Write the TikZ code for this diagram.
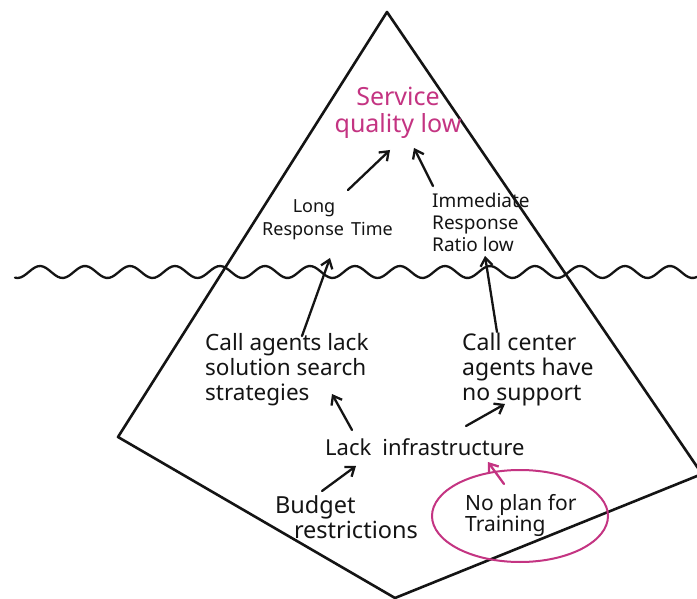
\documentclass[tikz,border=0pt]{standalone}
\usepackage{fontspec}
\setmainfont{Noto Sans}
\usetikzlibrary{arrows.meta}
\definecolor{ink}{RGB}{20,20,20}
\definecolor{pinkink}{RGB}{196,52,130}
\tikzset{
  outline/.style={draw=ink, line width=2.6pt, line join=round, line cap=round},
  label/.style={inner sep=0pt, text=ink, align=left, anchor=west},
  fs/.style 2 args={font=\fontsize{#1}{#2}\selectfont},
  cause/.style={draw=ink, line width=2.3pt, line cap=round, -{Straight Barb[length=8pt,width=12pt,line width=2.3pt]}},
  pinkcause/.style={cause, draw=pinkink}
}
\begin{document}
\begin{tikzpicture}[x=1pt,y=-1pt]
\useasboundingbox (0,0) rectangle (697,599);
\fill[white] (0,0) rectangle (697,599);

% iceberg outline
\draw[outline] (387,12) -- (702,474) -- (395,598) -- (118,437) -- cycle;

% water line
\draw[outline, line width=2.3pt] plot[domain=15:697, samples=240, smooth]
  (\x, {272 - 6*cos((\x-40)*8)});

% effects above the water
\node[label, align=center, anchor=center, text=pinkink, fs={25}{27}] (sq) at (398,113) {Service\\quality low};
\node[label, fs={18}{23}] (lrt) at (262,220) {\hspace*{1.7em}Long\\Response\hspace{0.4em}Time};
\node[label, fs={19}{22}] (irr) at (432,222) {Immediate\\Response\\Ratio low};

% causes below the water
\node[label, fs={22.5}{25}] (cal) at (205,370) {Call agents lack\\solution search\\strategies};
\node[label, fs={23}{25}] (ccs) at (462,370) {Call center\\agents have\\no support};
\node[label, fs={22}{25}] (li) at (325,447) {Lack\hspace{0.5em}infrastructure};
\node[label, fs={23.5}{25}] (br) at (275,517) {Budget\\\hspace*{0.8em}restrictions};
\node[label, fs={21}{21}] (np) at (465,515) {No plan for\\Training};
\coordinate (ring) at (520,516);
\draw[pinkink, line width=2pt] (ring) ellipse [x radius=88, y radius=46];

% coordinates for hand-drawn arrow ends
\coordinate (a1s) at (348,190); \coordinate (a1e) at (390,150);
\coordinate (a2s) at (433,186); \coordinate (a2e) at (414,148);
\coordinate (a3s) at (302,336); \coordinate (a3e) at (330,258);
\coordinate (a4s) at (497,332); \coordinate (a4e) at (485,256);
\coordinate (a5s) at (352,430); \coordinate (a5e) at (332,394);
\coordinate (a6s) at (466,426); \coordinate (a6e) at (505,404);
\coordinate (a7s) at (322,491); \coordinate (a7e) at (356,466);
\coordinate (a8s) at (504,484); \coordinate (a8e) at (488,462);

\draw[cause] (a1s) -- (a1e);
\draw[cause] (a2s) -- (a2e);
\draw[cause] (a3s) -- (a3e);
\draw[cause] (a4s) -- (a4e);
\draw[cause] (a5s) -- (a5e);
\draw[cause] (a6s) -- (a6e);
\draw[cause] (a7s) -- (a7e);
\draw[pinkcause] (a8s) -- (a8e);
\end{tikzpicture}
\end{document}
